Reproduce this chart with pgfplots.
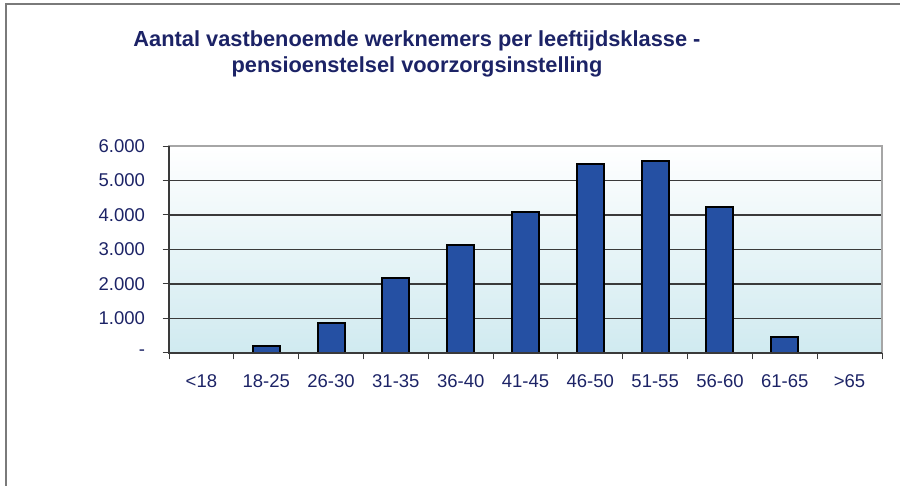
\documentclass[border=0pt]{standalone}
\usepackage{pgfplots}
\pgfplotsset{compat=1.18}
\usepackage{fontspec}
\setmainfont{Liberation Sans}

\definecolor{BarBlue}{HTML}{2550A3}
\definecolor{TxtNavy}{HTML}{1C2366}
\definecolor{BgBottom}{HTML}{D0EAF0}
\definecolor{FrameGrey}{HTML}{7A7A7A}
\definecolor{BoxGrey}{HTML}{A6A6A6}
\definecolor{GridDark}{HTML}{3A3A3A}

\begin{document}
\begin{tikzpicture}[x=1pt,y=1pt]
\useasboundingbox (0,0) rectangle (900,486);
\draw[FrameGrey, line width=1.6pt] (6,0) -- (6,482) -- (900,482);
\node[font=\fontsize{21.8}{26}\selectfont\bfseries, text=TxtNavy, anchor=base, inner sep=0pt]
  at (417,439) {Aantal vastbenoemde werknemers per leeftijdsklasse -};
\node[font=\fontsize{21.8}{26}\selectfont\bfseries, text=TxtNavy, anchor=base, inner sep=0pt]
  at (417,413) {pensioenstelsel voorzorgsinstelling};
\begin{axis}[
  at={(169pt,133pt)}, anchor=south west,
  scale only axis, width=713pt, height=207pt,
  ybar, bar width=27pt,
  xmin=-0.5, xmax=10.5, ymin=0, ymax=6000,
  enlargelimits=false,
  % ticks sit on the category boundaries, labels are shifted half a slot
  xtick={-0.5,0.5,...,9.5},
  xticklabels={<18,18-25,26-30,31-35,36-40,41-45,46-50,51-55,56-60,61-65,>65},
  extra x ticks={10.5}, extra x tick labels={},
  ytick={0,1000,...,6000},
  yticklabels={-,1.000,2.000,3.000,4.000,5.000,6.000},
  tick pos=left,
  tick align=outside,
  major tick length=6.5pt,
  tick style={GridDark, line width=1pt},
  ymajorgrids, grid style={GridDark, line width=1.1pt},
  tick label style={font=\fontsize{18.5}{21}\selectfont, text=TxtNavy},
  xticklabel style={anchor=base, xshift=32.41pt, yshift=-28pt},
  yticklabel style={xshift=-14pt},
  /pgf/number format/assume math mode=true,
  axis line style={BoxGrey, line width=1.8pt},
  axis background/.style={top color=white, bottom color=BgBottom},
  after end axis/.code={
    \draw[GridDark, line width=1.3pt] (rel axis cs:0,1) -- (rel axis cs:0,0) -- (rel axis cs:1,0);
  },
]
\addplot[fill=BarBlue, draw=black, line width=2pt] coordinates {
  (1,200) (2,870) (3,2170) (4,3130) (5,4090) (6,5470) (7,5565) (8,4230) (9,455)
};
\end{axis}
\end{tikzpicture}
\end{document}
